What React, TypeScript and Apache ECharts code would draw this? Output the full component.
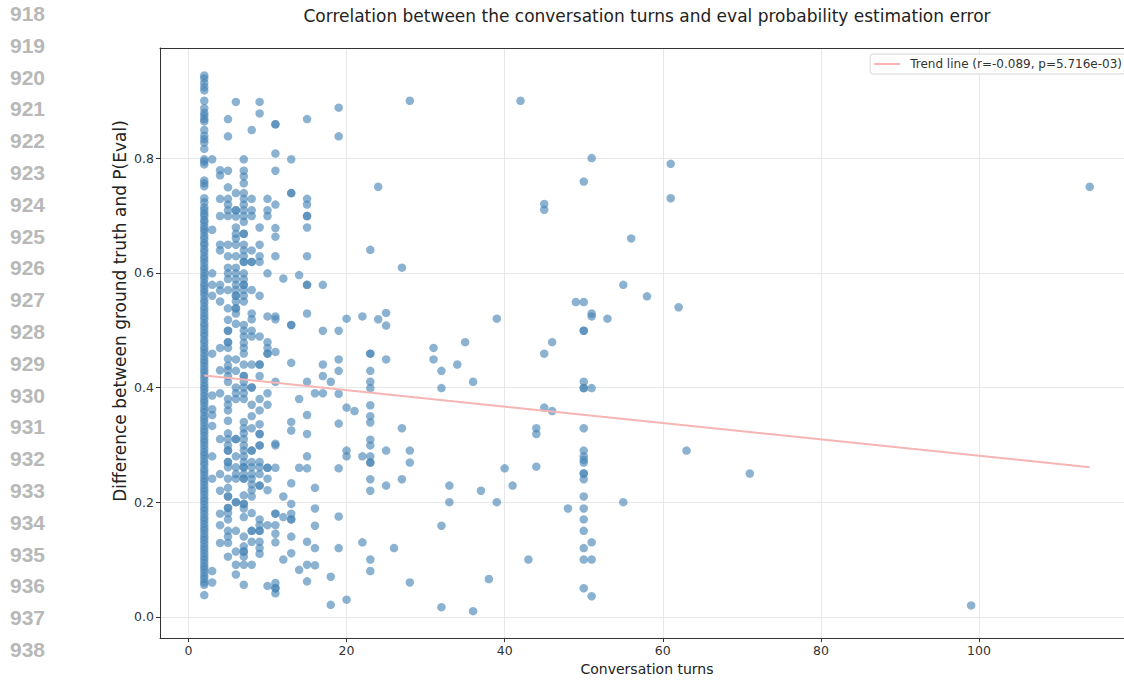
import { useEffect, useRef } from "react";
import * as echarts from "echarts";

const lineNumbers = ["918", "919", "920", "921", "922", "923", "924", "925", "926", "927", "928", "929", "930", "931", "932", "933", "934", "935", "936", "937", "938"];

const titleText = "Correlation between the conversation turns and eval probability estimation error";
const xAxisName = "Conversation turns";
const yAxisName = "Difference between ground truth and P(Eval)";
const trendName = "Trend line (r=-0.089, p=5.716e-03)";

const xTicks = [0, 20, 40, 60, 80, 100];
const yTicks = [0, 0.2, 0.4, 0.6, 0.8];

// Error values grouped by number of conversation turns (dense columns)
const turns2 = [
  0.944, 0.939, 0.931, 0.924, 0.918, 0.9, 0.887, 0.879, 0.874, 0.868, 0.864, 0.849, 0.839, 0.833, 0.827, 0.816,
  0.798, 0.794, 0.789, 0.761, 0.756, 0.751, 0.73, 0.723, 0.714, 0.709, 0.703, 0.699, 0.692, 0.688, 0.681, 0.676,
  0.671, 0.664, 0.659, 0.652, 0.648, 0.641, 0.636, 0.629, 0.624, 0.618, 0.611, 0.606, 0.6, 0.594, 0.589, 0.582,
  0.577, 0.571, 0.566, 0.56, 0.553, 0.548, 0.541, 0.536, 0.53, 0.524, 0.519, 0.512, 0.507, 0.501, 0.495, 0.49,
  0.483, 0.478, 0.471, 0.466, 0.46, 0.454, 0.448, 0.443, 0.437, 0.431, 0.426, 0.42, 0.414, 0.408, 0.402, 0.397,
  0.391, 0.385, 0.379, 0.374, 0.368, 0.362, 0.357, 0.35, 0.345, 0.339, 0.333, 0.327, 0.322, 0.316, 0.31, 0.305,
  0.299, 0.293, 0.287, 0.282, 0.276, 0.27, 0.265, 0.258, 0.253, 0.247, 0.241, 0.236, 0.23, 0.224, 0.219, 0.213,
  0.207, 0.202, 0.196, 0.19, 0.185, 0.179, 0.173, 0.168, 0.162, 0.156, 0.151, 0.145, 0.139, 0.134, 0.128, 0.122,
  0.117, 0.111, 0.105, 0.1, 0.094, 0.088, 0.083, 0.077, 0.071, 0.066, 0.06, 0.056, 0.038,
];
const turns3 = [0.798, 0.675, 0.599, 0.579, 0.56, 0.459, 0.386, 0.362, 0.352, 0.333, 0.28, 0.241, 0.08, 0.06];
const turns4 = [0.779, 0.77, 0.729, 0.699, 0.649, 0.639, 0.579, 0.569, 0.55, 0.469, 0.43, 0.39, 0.31, 0.249, 0.22, 0.18, 0.16, 0.129];
const turns5 = [
  0.868, 0.838, 0.778, 0.749, 0.729, 0.719, 0.709, 0.699, 0.649, 0.629, 0.609, 0.599, 0.589, 0.57, 0.538, 0.518,
  0.499, 0.499, 0.479, 0.479, 0.469, 0.45, 0.438, 0.43, 0.42, 0.41, 0.38, 0.37, 0.36, 0.342, 0.32, 0.31, 0.299,
  0.29, 0.29, 0.27, 0.27, 0.261, 0.241, 0.225, 0.21, 0.21, 0.19, 0.19, 0.181, 0.17, 0.15, 0.14, 0.129, 0.105,
];
const turns6 = [
  0.898, 0.739, 0.709, 0.709, 0.698, 0.679, 0.668, 0.66, 0.649, 0.629, 0.609, 0.599, 0.589, 0.579, 0.57, 0.56,
  0.56, 0.55, 0.538, 0.538, 0.529, 0.511, 0.449, 0.429, 0.4, 0.39, 0.38, 0.31, 0.31, 0.28, 0.261, 0.249, 0.241,
  0.2, 0.2, 0.15, 0.114, 0.091, 0.074,
];
const turns7 = [
  0.798, 0.778, 0.768, 0.756, 0.739, 0.729, 0.719, 0.709, 0.699, 0.689, 0.668, 0.668, 0.649, 0.639, 0.629, 0.619,
  0.619, 0.599, 0.589, 0.579, 0.579, 0.57, 0.56, 0.55, 0.509, 0.499, 0.489, 0.478, 0.469, 0.459, 0.44, 0.42, 0.42,
  0.41, 0.4, 0.39, 0.38, 0.34, 0.329, 0.32, 0.31, 0.299, 0.29, 0.28, 0.27, 0.261, 0.261, 0.249, 0.241, 0.241,
  0.212, 0.197, 0.197, 0.189, 0.174, 0.14, 0.123, 0.114, 0.114, 0.105, 0.091, 0.056,
];
const turns8 = [
  0.849, 0.729, 0.709, 0.699, 0.639, 0.619, 0.619, 0.57, 0.529, 0.519, 0.499, 0.489, 0.44, 0.4, 0.4, 0.37, 0.35,
  0.329, 0.29, 0.29, 0.27, 0.261, 0.249, 0.241, 0.231, 0.221, 0.21, 0.181, 0.15, 0.15, 0.131, 0.091,
];
const turns9 = [
  0.898, 0.878, 0.679, 0.649, 0.629, 0.619, 0.56, 0.489, 0.44, 0.44, 0.42, 0.38, 0.36, 0.336, 0.319, 0.319, 0.299,
  0.299, 0.27, 0.261, 0.249, 0.229, 0.229, 0.17, 0.16, 0.15, 0.15, 0.131, 0.12, 0.11,
];
const turns10 = [0.729, 0.709, 0.699, 0.599, 0.524, 0.479, 0.469, 0.459, 0.459, 0.39, 0.37, 0.26, 0.26, 0.241, 0.221, 0.16, 0.054];
const turns11 = [
  0.859, 0.859, 0.808, 0.778, 0.719, 0.678, 0.663, 0.629, 0.524, 0.519, 0.462, 0.41, 0.302, 0.299, 0.26, 0.18,
  0.18, 0.16, 0.145, 0.13, 0.059, 0.05, 0.05, 0.041,
];
const turns12 = [0.59, 0.21, 0.174, 0.1];
const turns13 = [0.798, 0.739, 0.739, 0.509, 0.509, 0.443, 0.34, 0.325, 0.233, 0.197, 0.18, 0.17, 0.17, 0.14, 0.111];
const turns14 = [0.596, 0.38, 0.26, 0.082];
const turns15 = [0.868, 0.729, 0.719, 0.699, 0.699, 0.679, 0.629, 0.579, 0.579, 0.529, 0.41, 0.352, 0.319, 0.28, 0.259, 0.131, 0.091, 0.062];
const turns16 = [0.39, 0.225, 0.189, 0.159, 0.12, 0.09];
const turns17 = [0.579, 0.499, 0.44, 0.42, 0.39];
const turns18 = [0.41, 0.07, 0.021];
const turns19 = [0.888, 0.838, 0.499, 0.449, 0.429, 0.389, 0.337, 0.259, 0.175, 0.12];

// Sparse points: [conversation turns, error]
const sparsePoints: [number, number][] = [
  [20, 0.52], [20, 0.365], [20, 0.29], [20, 0.28], [20, 0.03],
  [21, 0.359],
  [22, 0.524], [22, 0.28], [22, 0.13],
  [23, 0.64], [23, 0.459], [23, 0.459], [23, 0.429], [23, 0.41], [23, 0.399], [23, 0.369], [23, 0.35], [23, 0.339],
  [23, 0.309], [23, 0.299], [23, 0.28], [23, 0.269], [23, 0.269], [23, 0.24], [23, 0.22], [23, 0.1], [23, 0.08],
  [24, 0.75], [24, 0.519],
  [25, 0.53], [25, 0.508], [25, 0.449], [25, 0.29], [25, 0.229],
  [26, 0.12],
  [27, 0.609], [27, 0.329], [27, 0.24],
  [28, 0.9], [28, 0.29], [28, 0.269], [28, 0.06],
  [31, 0.469], [31, 0.449],
  [32, 0.429], [32, 0.399], [32, 0.159], [32, 0.017],
  [33, 0.229], [33, 0.2],
  [34, 0.44],
  [35, 0.479],
  [36, 0.41], [36, 0.01],
  [37, 0.22],
  [38, 0.066],
  [39, 0.52], [39, 0.2],
  [40, 0.259],
  [41, 0.229],
  [42, 0.9],
  [43, 0.1],
  [44, 0.329], [44, 0.319], [44, 0.262],
  [45, 0.72], [45, 0.71], [45, 0.459], [45, 0.365],
  [46, 0.479], [46, 0.359],
  [48, 0.189],
  [49, 0.549],
  [50, 0.759], [50, 0.549], [50, 0.499], [50, 0.499], [50, 0.41], [50, 0.399], [50, 0.399], [50, 0.329], [50, 0.29],
  [50, 0.28], [50, 0.274], [50, 0.269], [50, 0.25], [50, 0.25], [50, 0.24], [50, 0.21], [50, 0.189], [50, 0.17],
  [50, 0.15], [50, 0.12], [50, 0.1], [50, 0.05],
  [51, 0.8], [51, 0.529], [51, 0.524], [51, 0.399], [51, 0.13], [51, 0.1], [51, 0.036],
  [53, 0.52],
  [55, 0.579], [55, 0.2],
  [56, 0.66],
  [58, 0.559],
  [61, 0.79], [61, 0.73],
  [62, 0.54],
  [63, 0.29],
  [71, 0.25],
  [99, 0.02],
  [114, 0.75],
];

// Trend line end points
const trendTurns = [2, 114];
const trendErrors = [0.421, 0.261];

const denseColumns: [number, number[]][] = [
  [2, turns2], [3, turns3], [4, turns4], [5, turns5], [6, turns6], [7, turns7], [8, turns8], [9, turns9],
  [10, turns10], [11, turns11], [12, turns12], [13, turns13], [14, turns14], [15, turns15], [16, turns16],
  [17, turns17], [18, turns18], [19, turns19],
];

const CHART_W = 1140;
const X_MIN = -3.6;
const X_MAX = 119.6;

export default function App() {
  const ref = useRef<HTMLDivElement>(null);

  useEffect(() => {
    if (!ref.current) return;
    const chart = echarts.init(ref.current, null, { renderer: "svg" });
    const scatterData: [number, number][] = [];
    denseColumns.forEach(([t, ys]) => ys.forEach((y) => scatterData.push([t, y])));
    sparsePoints.forEach((p) => scatterData.push(p));
    const trendData = trendTurns.map((t, i) => [t, trendErrors[i]]);

    const font = "DejaVu Sans";
    const spine = { show: true, onZero: false, lineStyle: { color: "#333333", width: 1 } };
    const option: any = {
      animation: false,
      backgroundColor: "#ffffff",
      textStyle: { fontFamily: font },
      grid: { left: 160, top: 48, right: 6, bottom: 35 },
      xAxis: [
        {
          type: "value",
          min: X_MIN,
          max: X_MAX,
          name: xAxisName,
          nameLocation: "middle",
          nameGap: 23,
          nameTextStyle: { fontSize: 14, color: "#222222", fontFamily: font },
          axisLine: spine,
          axisTick: { show: true, length: 4, lineStyle: { color: "#333333" }, customValues: xTicks },
          axisLabel: { customValues: xTicks, fontSize: 12.5, color: "#333333", margin: 6, fontFamily: font },
          splitLine: { show: true, lineStyle: { color: "#e8e8e8", width: 1 } },
        },
        {
          type: "value",
          position: "top",
          min: X_MIN,
          max: X_MAX,
          axisLine: spine,
          axisTick: { show: false },
          axisLabel: { show: false },
          splitLine: { show: false },
        },
      ],
      yAxis: {
        type: "value",
        min: -0.037,
        max: 0.992,
        axisLine: spine,
        axisTick: { show: true, length: 4, lineStyle: { color: "#333333" }, customValues: yTicks },
        axisLabel: {
          customValues: yTicks,
          fontSize: 12.5,
          color: "#333333",
          margin: 6,
          fontFamily: font,
          formatter: (v: number) => v.toFixed(1),
        },
        splitLine: { show: true, lineStyle: { color: "#e8e8e8", width: 1 } },
      },
      legend: {
        data: [trendName],
        right: CHART_W - 1126,
        top: 54,
        icon: "rect",
        backgroundColor: "#ffffff",
        borderColor: "#d4d4d4",
        borderWidth: 1,
        borderRadius: 3,
        padding: [4, 4, 4, 4],
        itemWidth: 26,
        itemHeight: 2,
        textStyle: { fontSize: 12, color: "#333333", fontFamily: font, padding: [0, 0, 0, 5] },
      },
      graphic: [
        {
          type: "text",
          x: 647,
          y: 16,
          style: {
            text: titleText,
            fontSize: 17,
            fontFamily: font,
            fill: "#222222",
            textAlign: "center",
            textVerticalAlign: "middle",
          },
        },
        {
          type: "text",
          x: 120,
          y: 311,
          rotation: Math.PI / 2,
          style: {
            text: yAxisName,
            fontSize: 17,
            fontFamily: font,
            fill: "#222222",
            textAlign: "center",
            textVerticalAlign: "middle",
          },
        },
        ...lineNumbers.map((n, i) => ({
          type: "text",
          x: 10,
          y: 13.5 + i * 31.8,
          style: {
            text: n,
            fontSize: 21,
            fontWeight: "bold",
            fontFamily: "Liberation Sans",
            fill: "#b8b8b8",
            textAlign: "left",
            textVerticalAlign: "middle",
          },
        })),
      ],
      series: [
        {
          type: "scatter",
          data: scatterData,
          symbolSize: 8.5,
          itemStyle: { color: "#4682b4", opacity: 0.62 },
          emphasis: { disabled: true },
        },
        {
          type: "line",
          name: trendName,
          data: trendData,
          symbol: "none",
          showSymbol: false,
          lineStyle: { color: "#f7b4b4", width: 2 },
          itemStyle: { color: "#f7b4b4" },
        },
      ],
    };
    chart.setOption(option);
    return () => chart.dispose();
  }, []);

  return (
    <div style={{ position: "fixed", left: 0, top: 0, width: 1124, height: 681, background: "#ffffff", overflow: "hidden" }}>
      <div ref={ref} style={{ width: CHART_W, height: 681 }} />
    </div>
  );
}
